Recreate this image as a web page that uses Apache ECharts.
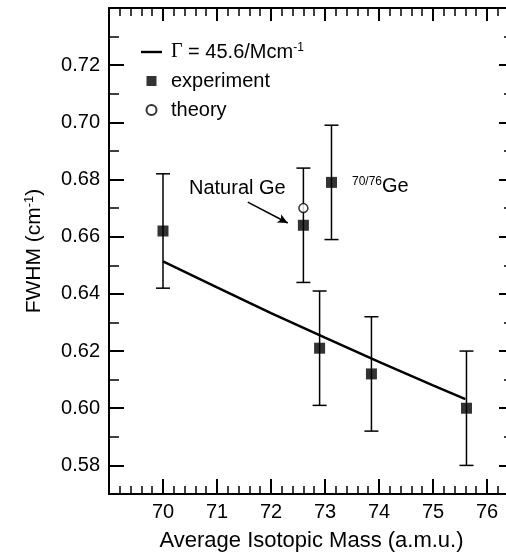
<!DOCTYPE html>
<html><head><meta charset="utf-8">
<script src="https://cdn.jsdelivr.net/npm/echarts@6/dist/echarts.min.js"></script>
<style>html,body{margin:0;padding:0;background:#fff}#c{width:506px;height:556px}</style>
</head><body><div id="c"></div>
<script>
// ---- data ----
const massExp = [70.0, 72.6, 73.12, 72.9, 73.86, 75.62];
const fwhmExp = [0.662, 0.664, 0.679, 0.621, 0.612, 0.600];
const errExp  = [0.020, 0.020, 0.020, 0.020, 0.020, 0.020];
const massTheory = [72.6];
const fwhmTheory = [0.670];
const fitMass = [70, 71, 72, 73, 74, 75, 75.6];
const fitFwhm = [0.6514, 0.6423, 0.6333, 0.6247, 0.6162, 0.6080, 0.6032];
const xMajorTicks = [70, 71, 72, 73, 74, 75, 76];
const xMinorTicks = [69.2,69.4,69.6,69.8,70.2,70.4,70.6,70.8,71.2,71.4,71.6,71.8,72.2,72.4,72.6,72.8,73.2,73.4,73.6,73.8,74.2,74.4,74.6,74.8,75.2,75.4,75.6,75.8,76.2,76.4];
const yMajorTicks = [0.58, 0.60, 0.62, 0.64, 0.66, 0.68, 0.70, 0.72];
const yMinorTicks = [0.59, 0.61, 0.63, 0.65, 0.67, 0.69, 0.71, 0.73];
const arrowFrom = [71.57, 0.6721];
const arrowTo = [72.31, 0.6648];

const FONT = '"Liberation Sans", Arial, Helvetica, sans-serif';
const chart = echarts.init(document.getElementById('c'), null, {renderer: 'canvas'});

function xAx(pos, ticks, len, lw, showLine, extra) {
  return Object.assign({
    type: 'value', position: pos, min: 69, max: 76.5,
    axisLine: {show: showLine, onZero: false, lineStyle: {color: '#000', width: 2}},
    axisTick: {show: true, inside: true, length: len, customValues: ticks, lineStyle: {color: '#000', width: lw}},
    axisLabel: {show: false},
    splitLine: {show: false}
  }, extra || {});
}
function yAx(pos, ticks, len, lw, showLine, extra) {
  return Object.assign({
    type: 'value', position: pos, min: 0.57, max: 0.74,
    axisLine: {show: showLine, onZero: false, lineStyle: {color: '#000', width: 2}},
    axisTick: {show: true, inside: true, length: len, customValues: ticks, lineStyle: {color: '#000', width: lw}},
    axisLabel: {show: false},
    splitLine: {show: false}
  }, extra || {});
}

const errData = massExp.map((m, i) => [m, fwhmExp[i] - errExp[i], fwhmExp[i] + errExp[i]]);

const option = {
  animation: false,
  backgroundColor: '#fff',
  textStyle: {fontFamily: FONT},
  grid: {left: 109, top: 8, width: 405, height: 486, containLabel: false, outerBoundsMode: 'none'},
  legend: {
    orient: 'vertical', left: 141, top: 42, padding: 0, itemGap: 9,
    itemWidth: 21, itemHeight: 10, symbolKeepAspect: true,
    data: [
      {name: 'fit', icon: 'path://M0,0 L21,0 L21,2.4 L0,2.4 Z'},
      {name: 'experiment', icon: 'path://M0,0 L10,0 L10,10 L0,10 Z'},
      {name: 'theory', icon: 'circle'}
    ],
    formatter: n => n === 'fit' ? '{g|Γ} = 45.6/Mcm{sup|-1}' : n,
    textStyle: {
      fontFamily: FONT, fontSize: 20, color: '#000', lineHeight: 20, padding: [0, 0, 0, 4],
      rich: {
        g: {fontFamily: '"Liberation Serif", "Times New Roman", serif', fontSize: 20, lineHeight: 20},
        sup: {fontSize: 12, verticalAlign: 'top', lineHeight: 20}
      }
    }
  },
  xAxis: [
    xAx('bottom', xMajorTicks, 15, 2, true, {
      axisLabel: {show: true, customValues: xMajorTicks, fontSize: 20, color: '#000', margin: 8, fontFamily: FONT},
      name: 'Average Isotopic Mass (a.m.u.)', nameLocation: 'middle', nameGap: 36,
      nameTextStyle: {fontSize: 22, color: '#000', fontFamily: FONT}
    }),
    xAx('bottom', xMinorTicks, 8, 1.5, false),
    xAx('top', xMajorTicks, 13, 2, true),
    xAx('top', xMinorTicks, 8, 1.5, false)
  ],
  yAxis: [
    yAx('left', yMajorTicks, 15, 2, true, {
      axisLabel: {show: true, customValues: yMajorTicks, fontSize: 20, color: '#000', margin: 9, fontFamily: FONT,
        formatter: v => v.toFixed(2)},
      name: 'FWHM (cm{sup|-1})', nameLocation: 'middle', nameGap: 64, nameRotate: 90,
      nameTextStyle: {fontSize: 21, color: '#000', fontFamily: FONT, lineHeight: 22,
        rich: {sup: {fontSize: 13, verticalAlign: 'top', lineHeight: 22}}}
    }),
    yAx('left', yMinorTicks, 10, 1.5, false),
    yAx('right', yMajorTicks, 15, 2, true),
    yAx('right', yMinorTicks, 10, 1.5, false)
  ],
  graphic: [
    {type: 'text', x: 189, y: 188, style: {text: 'Natural Ge', font: '20px ' + FONT, fill: '#000', verticalAlign: 'middle'}},
    {type: 'text', x: 352, y: 186, style: {
      text: '{sup|70/76}{n|Ge}', fill: '#000', verticalAlign: 'middle', font: '20px ' + FONT,
      rich: {sup: {fontSize: 12, verticalAlign: 'top', lineHeight: 21, fontFamily: FONT}, n: {fontSize: 20, lineHeight: 21, fontFamily: FONT}}
    }}
  ],
  series: [
    {
      name: 'fit', type: 'line', xAxisIndex: 0, yAxisIndex: 0,
      data: fitMass.map((m, i) => [m, fitFwhm[i]]),
      symbol: 'none', showSymbol: false,
      lineStyle: {color: '#000', width: 2.5}, itemStyle: {color: '#000'}, z: 2
    },
    {
      name: 'errors', type: 'custom', xAxisIndex: 0, yAxisIndex: 0,
      data: errData, z: 3, silent: true,
      renderItem: (params, api) => {
        const x = api.value(0);
        const lo = api.coord([x, api.value(1)]);
        const hi = api.coord([x, api.value(2)]);
        const cap = 7;
        const st = {stroke: '#000', lineWidth: 1.5};
        return {type: 'group', children: [
          {type: 'line', shape: {x1: lo[0], y1: lo[1], x2: hi[0], y2: hi[1]}, style: st},
          {type: 'line', shape: {x1: lo[0] - cap, y1: lo[1], x2: lo[0] + cap, y2: lo[1]}, style: st},
          {type: 'line', shape: {x1: hi[0] - cap, y1: hi[1], x2: hi[0] + cap, y2: hi[1]}, style: st}
        ]};
      }
    },
    {
      name: 'experiment', type: 'scatter', xAxisIndex: 0, yAxisIndex: 0,
      data: massExp.map((m, i) => [m, fwhmExp[i]]),
      symbol: 'rect', symbolSize: 11, itemStyle: {color: '#000'}, z: 4
    },
    {
      name: 'theory', type: 'scatter', xAxisIndex: 0, yAxisIndex: 0,
      data: massTheory.map((m, i) => [m, fwhmTheory[i]]),
      symbol: 'circle', symbolSize: 9,
      itemStyle: {color: '#fff', borderColor: '#000', borderWidth: 1.5}, z: 5,
      markLine: {
        silent: true, symbol: ['none', 'arrow'], symbolSize: [7, 10],
        lineStyle: {color: '#000', width: 1.5, type: 'solid'},
        label: {show: false},
        data: [[{coord: arrowFrom}, {coord: arrowTo}]]
      }
    }
  ]
};
chart.setOption(option);
</script>
</body></html>
